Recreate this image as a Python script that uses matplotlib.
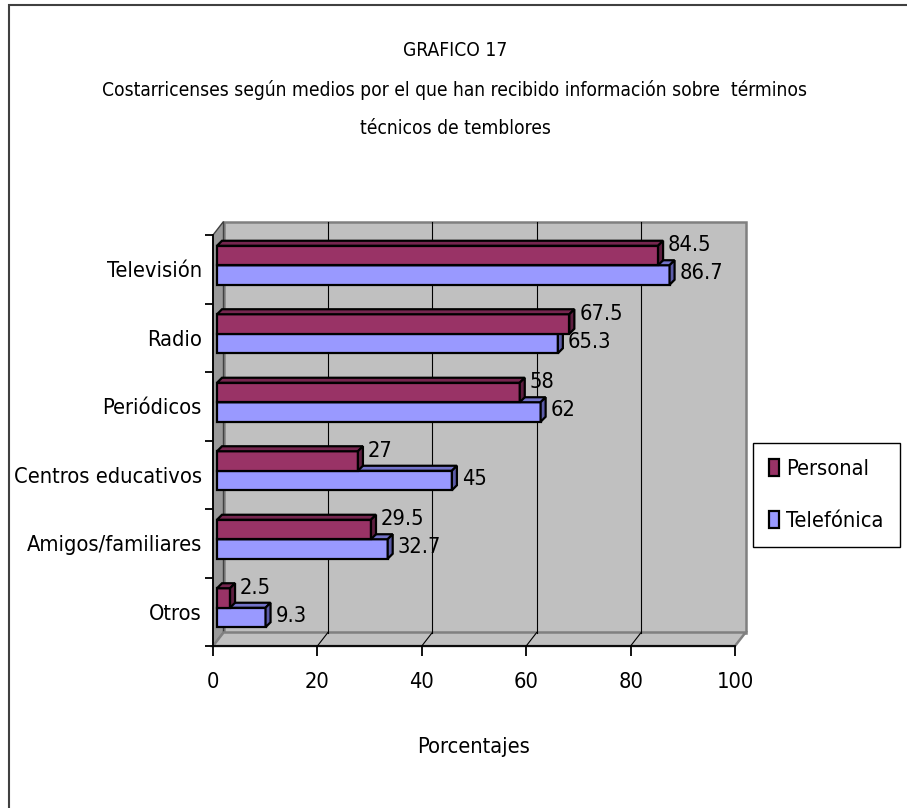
import matplotlib
matplotlib.use("Agg")
import matplotlib.pyplot as plt
from matplotlib import font_manager as fm
from matplotlib.patches import Polygon, Rectangle, Patch

categories = ["Televisión", "Radio", "Periódicos", "Centros educativos",
              "Amigos/familiares", "Otros"]
personal = [84.5, 67.5, 58, 27, 29.5, 2.5]
telefonica = [86.7, 65.3, 62, 45, 32.7, 9.3]
series_names = ["Personal", "Telefónica"]
x_ticks = [0, 20, 40, 60, 80, 100]

title_lines = ["GRAFICO 17",
               "Costarricenses según medios por el que han recibido información sobre  términos",
               "técnicos de temblores"]


def pick_font():
    # the original uses a narrow Arial; take a narrow/condensed face if there is one
    names = {f.name for f in fm.fontManager.ttflist}
    for nm in ("Liberation Sans Narrow", "Arial Narrow"):
        if nm in names:
            return nm, "normal", 1.0
    for f in fm.fontManager.ttflist:
        if f.name == "DejaVu Sans" and f.stretch == "condensed" and f.style == "normal" \
                and f.weight in (400, "normal", "book"):
            return "DejaVu Sans", "condensed", 0.92
    return "Liberation Sans", "normal", 0.86


FAMILY, STRETCH, SCALE = pick_font()
plt.rcParams["font.family"] = [FAMILY, "DejaVu Sans"]
plt.rcParams["font.stretch"] = STRETCH
FS = 17 * SCALE
TFS = 15 * SCALE

W, H, DPI = 907, 808, 100
fig = plt.figure(figsize=(W / DPI, H / DPI), dpi=DPI)

# front plane of the 3d box, pixels
left, right, top, bottom = 213, 735, 235, 646
ax = fig.add_axes([left / W, 1 - bottom / H, (right - left) / W, (bottom - top) / H])
n = len(categories)
ax.set_xlim(0, 100)
ax.set_ylim(n - 0.5, -0.5)
ax.patch.set_visible(False)

sx = (right - left) / 100.0   # px per x unit
sy = (bottom - top) / n       # px per category


def px(dx, dy):
    # pixel offset (right, up) -> data offset
    return dx / sx, -dy / sy


y0, y1 = -0.5, n - 0.5
Dx, Dy = px(10.5, 13.5)      # depth of the box
wall = "#c0c0c0"
edge = "#808080"

ax.add_patch(Rectangle((Dx, y0 + Dy), 100, n, facecolor=wall, edgecolor=edge,
                       lw=1.8, clip_on=False, zorder=0))
ax.add_patch(Polygon([(0, y0), (Dx, y0 + Dy), (Dx, y1 + Dy), (0, y1)],
                     facecolor="#999999", edgecolor="#404040", lw=1.0,
                     clip_on=False, zorder=0.5))
ax.add_patch(Polygon([(0, y1), (100, y1), (100 + Dx, y1 + Dy), (Dx, y1 + Dy)],
                     facecolor=wall, edgecolor=edge, lw=1.8,
                     clip_on=False, zorder=0.5))
for t in x_ticks[1:-1]:
    ax.plot([t + Dx, t + Dx], [y0 + Dy, y1 + Dy], color="black", lw=0.8,
            clip_on=False, zorder=1)
    ax.plot([t, t + Dx], [y1, y1 + Dy], color="black", lw=0.8,
            clip_on=False, zorder=1)

# 3d bars
Bx, By = px(4, 4)      # bar front face shift
bx, by = px(5, 5)      # bar depth
h = 19.5 / sy
series = [
    (telefonica, 0.0, "#9999ff", "#7373c9", "#5c5ca8", 3, (14, -4)),
    (personal, -h, "#993366", "#76264f", "#5e1e40", 4, (14, 24)),
]
for vals, shift, face, topc, sidec, z, lab_off in series:
    ys = [i + shift + By for i in range(n)]
    ax.barh([y + h / 2 for y in ys], vals, height=h, left=Bx, color=face,
            edgecolor="black", lw=1.6, zorder=z, clip_on=False)
    for i, v in enumerate(vals):
        yt, yb = ys[i], ys[i] + h
        ax.add_patch(Polygon([(Bx, yt), (Bx + v, yt), (Bx + v + bx, yt + by), (Bx + bx, yt + by)],
                             facecolor=topc, edgecolor="black", lw=1.6,
                             zorder=z, clip_on=False))
        ax.add_patch(Polygon([(Bx + v, yt), (Bx + v, yb), (Bx + v + bx, yb + by), (Bx + v + bx, yt + by)],
                             facecolor=sidec, edgecolor="black", lw=1.6,
                             zorder=z, clip_on=False))
        ax.annotate(f"{v:g}", xy=(v, i), xytext=lab_off, textcoords="offset pixels",
                    ha="left", va="center", fontsize=FS, zorder=6)

# axes
for s in ("top", "right"):
    ax.spines[s].set_visible(False)
for s in ("left", "bottom"):
    ax.spines[s].set_color("black")
    ax.spines[s].set_linewidth(1.3)
    ax.spines[s].set_zorder(5)
ax.set_xticks(x_ticks)
ax.set_xticklabels([str(t) for t in x_ticks], fontsize=FS)
ax.set_yticks([i - 0.5 for i in range(n + 1)])
ax.set_yticklabels([])
ax.set_yticks(range(n), categories, minor=True, fontsize=FS)
ax.tick_params(axis="x", length=7, width=1.3, pad=12)
ax.tick_params(axis="y", which="major", length=6, width=1.3)
ax.tick_params(axis="y", which="minor", length=0, pad=8)
ax.set_xlabel("Porcentajes", fontsize=FS, labelpad=32)

# titles
for txt, yy in zip(title_lines, [50, 90, 128]):
    fig.text(455 / W, 1 - yy / H, txt, ha="center", va="center", fontsize=TFS)

handles = [Patch(facecolor="#993366", edgecolor="black", lw=1.6),
           Patch(facecolor="#9999ff", edgecolor="black", lw=1.6)]
leg = fig.legend(handles, series_names, loc="upper right",
                 bbox_to_anchor=(900 / W, 1 - 443 / H), borderaxespad=0,
                 fontsize=FS, handlelength=0.45, handleheight=0.8,
                 handletextpad=0.35, labelspacing=1.45, borderpad=0.75,
                 fancybox=False, edgecolor="black", framealpha=1)
leg.get_frame().set_linewidth(1.0)

# outer chart border
fig.patches.append(Rectangle((9 / W, -0.05), 1.0, 1 - 5 / H + 0.05, transform=fig.transFigure,
                             fill=False, edgecolor="#404040", lw=1.5))

fig.savefig("out.png", dpi=DPI)
